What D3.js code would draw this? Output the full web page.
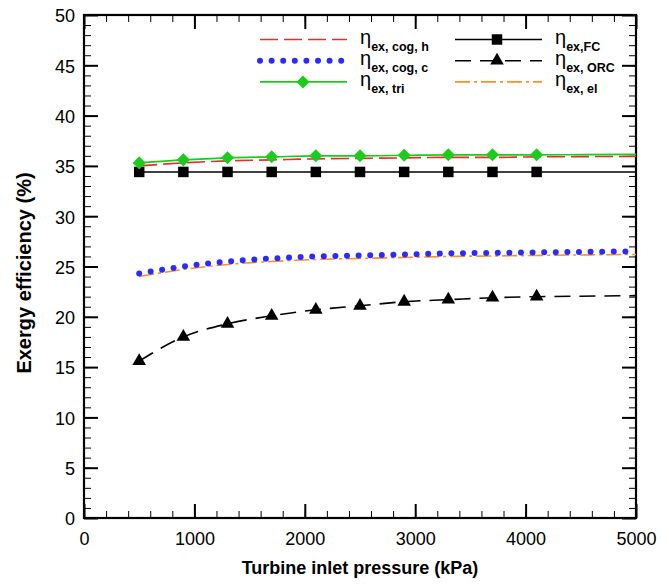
<!DOCTYPE html>
<html>
<head>
<meta charset="utf-8">
<script src="https://cdn.jsdelivr.net/npm/d3@7"></script>
<style>
  body { margin: 0; background: #fff; }
  svg { display: block; }
</style>
</head>
<body>
<div id="chart"></div>
<script>
// turbine inlet pressure (kPa) where the curves are sampled
const pressure = [500, 900, 1300, 1700, 2100, 2500, 2900, 3300, 3700, 4100, 4500, 5000];
// markers only go up to 4100
const markerCount = 10;

// exergy efficiency (%)
const cogH = [35.0, 35.3, 35.5, 35.6, 35.7, 35.75, 35.8, 35.85, 35.85, 35.9, 35.92, 35.95];
const cogC = [24.3, 25.0, 25.5, 25.8, 26.0, 26.1, 26.2, 26.3, 26.35, 26.4, 26.45, 26.5];
const tri = [35.3, 35.6, 35.8, 35.9, 36.0, 36.0, 36.05, 36.1, 36.1, 36.1, 36.12, 36.15];
const fc = [34.4, 34.4, 34.4, 34.4, 34.4, 34.4, 34.4, 34.4, 34.4, 34.4, 34.4, 34.4];
const orc = [15.6, 18.0, 19.3, 20.1, 20.7, 21.1, 21.5, 21.7, 21.9, 22.0, 22.05, 22.1];
const el = [24.0, 24.7, 25.2, 25.5, 25.7, 25.8, 25.9, 26.0, 26.05, 26.1, 26.15, 26.2];

const xTicks = [0, 1000, 2000, 3000, 4000, 5000];
const yTicks = [0, 5, 10, 15, 20, 25, 30, 35, 40, 45, 50];

const series = [
  { sub: 'ex, cog, h', values: cogH, color: '#e3302e', dash: '18,6', width: 1.6, marker: null },
  { sub: 'ex, cog, c', values: cogC, color: '#2b2bff', dash: '0,11.6', width: 6, cap: 'round', marker: null },
  { sub: 'ex, tri', values: tri, color: '#1ccc1c', dash: null, width: 1.6, marker: 'diamond' },
  { sub: 'ex,FC', values: fc, color: '#000', dash: null, width: 1.6, marker: 'square' },
  { sub: 'ex, ORC', values: orc, color: '#000', dash: '16,9', width: 1.6, marker: 'triangle' },
  { sub: 'ex, el', values: el, color: '#ff8f2a', dash: '15,4,3,4', width: 1.6, marker: null },
];

const width = 669, height = 585;
const svg = d3.select('#chart').append('svg').attr('width', width).attr('height', height);

const x = d3.scaleLinear().domain([0, 5000]).range([84, 636]);
const y = d3.scaleLinear().domain([0, 50]).range([518, 15]);

const font = 'Liberation Sans, Arial, Helvetica, sans-serif';

// minor ticks first, then majors
const xMinor = d3.range(0, 5001, 200);
const yMinor = d3.range(0, 51, 1);

function tickAxis(axisFn, scale, values, size, pos, labels, pad) {
  const g = svg.append('g').attr('transform', pos)
    .call(axisFn(scale).tickValues(values).tickSizeInner(-size).tickSizeOuter(0)
      .tickPadding(labels ? pad : 0).tickFormat(labels ? d3.format('d') : ''));
  g.select('.domain').remove();
  g.selectAll('line').attr('stroke', '#000').attr('stroke-width', size > 10 ? 2 : 1);
  g.selectAll('text').style('font-family', font).style('font-size', '18px').attr('fill', '#000');
  return g;
}

tickAxis(d3.axisBottom, x, xMinor, 7, 'translate(0,518)');
tickAxis(d3.axisTop, x, xMinor, 7, 'translate(0,15)');
tickAxis(d3.axisLeft, y, yMinor, 7, 'translate(84,0)');
tickAxis(d3.axisRight, y, yMinor, 7, 'translate(636,0)');

tickAxis(d3.axisBottom, x, xTicks, 14, 'translate(0,518)', true, 14);
tickAxis(d3.axisTop, x, xTicks, 14, 'translate(0,15)', false);
tickAxis(d3.axisLeft, y, yTicks, 14, 'translate(84,0)', true, 9).selectAll('text').attr('dy', '0.38em');
tickAxis(d3.axisRight, y, yTicks, 14, 'translate(636,0)', false);

svg.append('rect')
  .attr('x', 84).attr('y', 15).attr('width', 636 - 84).attr('height', 518 - 15)
  .attr('fill', 'none').attr('stroke', '#000').attr('stroke-width', 2.2);

// axis titles
svg.append('text')
  .attr('x', 360).attr('y', 574)
  .attr('text-anchor', 'middle')
  .style('font-family', font).style('font-size', '18px').style('font-weight', 'bold')
  .text('Turbine inlet pressure (kPa)');

svg.append('text')
  .attr('transform', 'translate(31,273) rotate(-90)')
  .attr('text-anchor', 'middle')
  .style('font-family', font).style('font-size', '20px').style('font-weight', 'bold')
  .text('Exergy efficiency (%)');

// markers
const markerShape = {
  square: d3.symbol().type(d3.symbolSquare).size(110),
  diamond: d3.symbol().type(d3.symbolSquare).size(85),
  triangle: d3.symbol().type(d3.symbolTriangle).size(80),
};
function drawMarker(g, type, cx, cy, color) {
  g.append('path')
    .attr('d', markerShape[type]())
    .attr('transform', `translate(${cx},${cy})` + (type === 'diamond' ? ' rotate(45)' : ''))
    .attr('fill', color);
}

const line = d3.line()
  .x((d, i) => x(pressure[i]))
  .y(d => y(d))
  .curve(d3.curveMonotoneX);

const plot = svg.append('g');
// draw in an order so green/blue sit on top like the figure
const order = [3, 5, 4, 0, 1, 2];
order.forEach(k => {
  const s = series[k];
  plot.append('path')
    .attr('d', line(s.values))
    .attr('fill', 'none')
    .attr('stroke', s.color)
    .attr('stroke-width', s.width)
    .attr('stroke-dasharray', s.dash)
    .attr('stroke-linecap', s.cap || 'butt');
  if (s.marker) {
    s.values.slice(0, markerCount).forEach((v, i) => {
      drawMarker(plot, s.marker, x(pressure[i]), y(v), s.color);
    });
  }
});

// legend, two columns of three
const legend = svg.append('g');
series.forEach((s, i) => {
  const col = i < 3 ? 0 : 1;
  const row = i % 3;
  const x0 = col === 0 ? 260 : 455;
  const ly = 39.5 + row * 21.2;
  legend.append('line')
    .attr('x1', x0).attr('x2', x0 + 87).attr('y1', ly).attr('y2', ly)
    .attr('stroke', s.color)
    .attr('stroke-width', s.width)
    .attr('stroke-dasharray', s.dash)
    .attr('stroke-linecap', s.cap || 'butt');
  if (s.marker) drawMarker(legend, s.marker, x0 + (col === 0 ? 43 : 42), ly, s.color);
  const t = legend.append('text')
    .attr('x', x0 + 100).attr('y', ly + 4)
    .style('font-family', font).attr('fill', '#000');
  t.append('tspan').style('font-size', '20px').text('η');
  t.append('tspan').attr('dy', 7).style('font-size', '12.5px').style('font-weight', 'bold').text(s.sub);
});
</script>
</body>
</html>
